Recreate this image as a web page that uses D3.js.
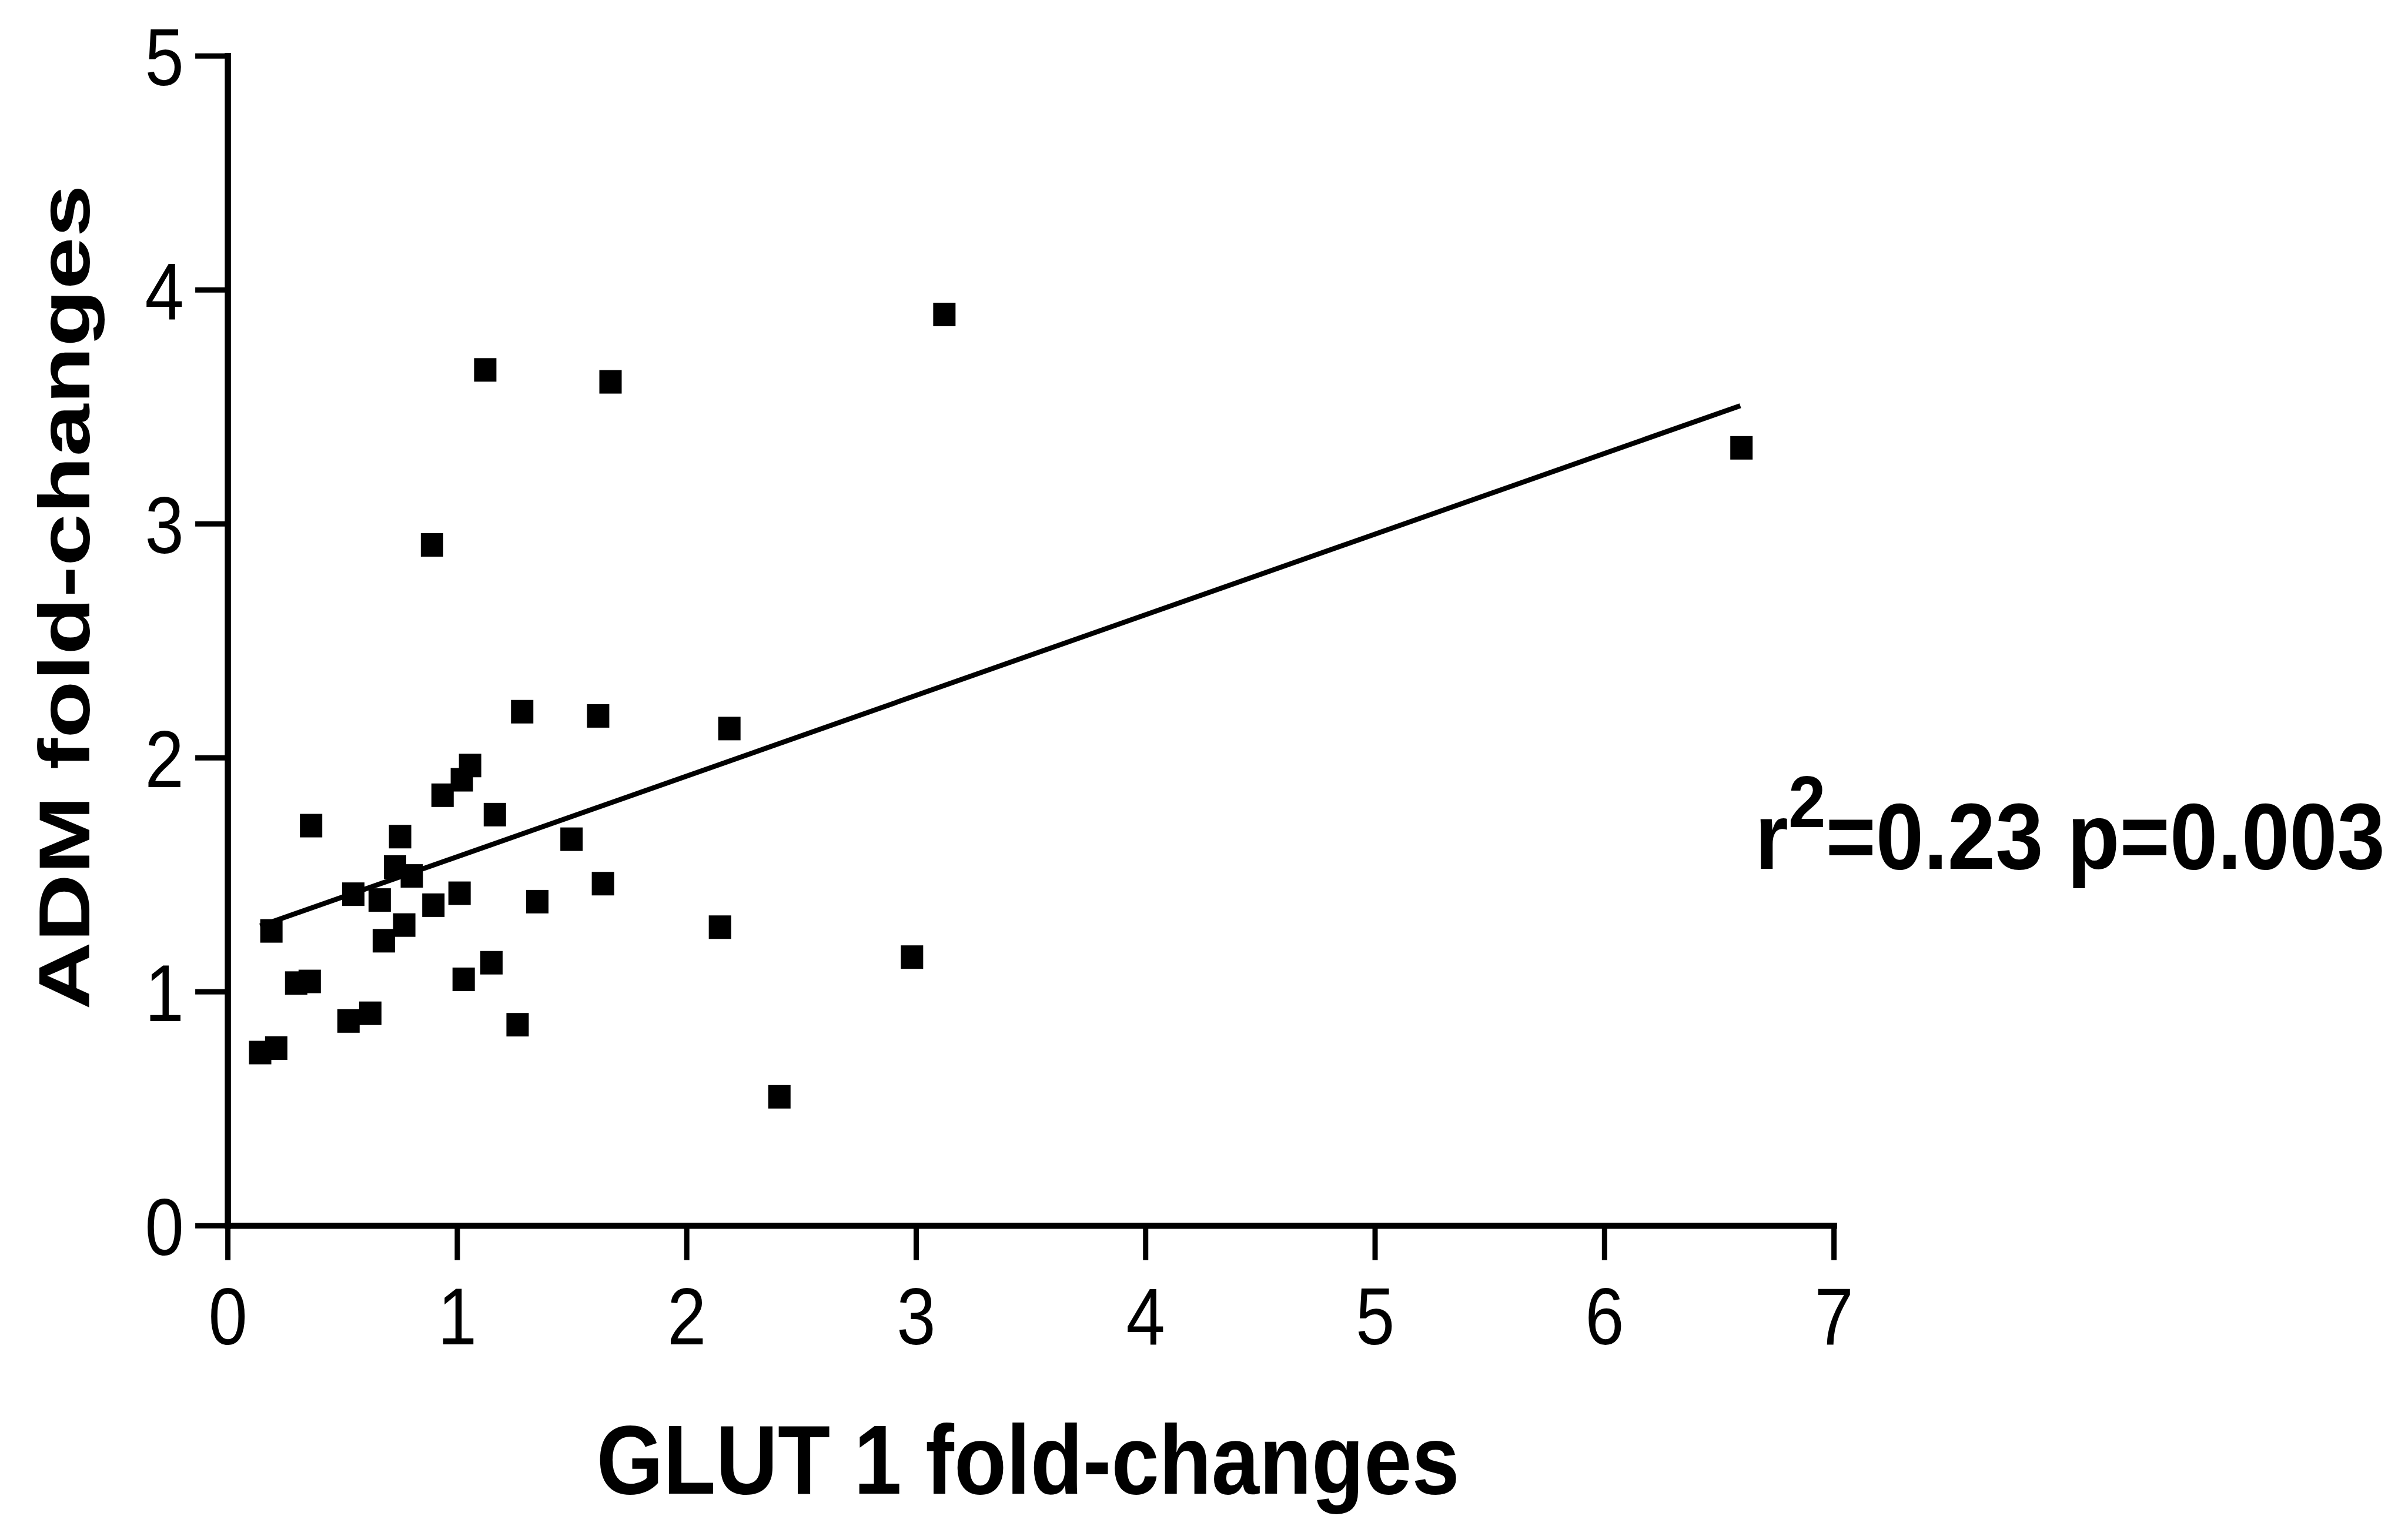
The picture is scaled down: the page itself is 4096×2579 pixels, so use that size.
<!DOCTYPE html>
<html>
<head>
<meta charset="utf-8">
<script src="https://cdn.jsdelivr.net/npm/d3@7"></script>
<style>
  html, body { margin: 0; padding: 0; background: #ffffff; }
  svg { display: block; }
</style>
</head>
<body>
<svg id="chart" width="4096" height="2579"></svg>
<script>
// GLUT 1 fold-change (x) against ADM fold-change (y), one entry per sample
const glutFold = [
  1.057, 1.021, 0.937, 1.165, 0.364, 0.752, 1.499, 0.730, 0.803, 1.636,
  0.548, 0.663, 1.011, 0.897, 1.350, 0.191, 0.770, 0.681, 1.150, 1.029,
  0.358, 0.299, 1.264, 0.527, 0.622, 0.142, 0.212,
  1.615, 2.187, 2.146, 2.983, 2.405, 3.124, 1.123, 1.669, 0.891, 1.284,
  6.598
];
const admFold = [
  1.966, 1.905, 1.839, 1.756, 1.709, 1.662, 1.651, 1.532, 1.494, 1.461,
  1.416, 1.391, 1.420, 1.369, 1.384, 1.259, 1.284, 1.217, 1.123, 1.052,
  1.043, 1.036, 0.858, 0.874, 0.907, 0.739, 0.758,
  2.178, 2.124, 1.275, 1.147, 0.550, 3.894, 3.657, 3.606, 2.909, 2.196,
  3.324
];

// Linear regression line, drawn across the observed GLUT 1 range
const fitX = [0.142, 6.593];
const fitY = [1.280, 3.504];

const xTickValues = [0, 1, 2, 3, 4, 5, 6, 7];
const yTickValues = [0, 1, 2, 3, 4, 5];

const xTitle = "GLUT 1 fold-changes";
const yTitle = "ADM fold-changes";
const rSquared = "0.23";
const pValue = "0.003";

// ---- layout ----
const FONT = "'Liberation Sans', Arial, Helvetica, sans-serif";
const plotLeft = 387.1, plotRight = 3119.1;
const plotBottom = 2084.7, plotTop = 94.8;
const axisStroke = 10.5, tickStroke = 9;
const tickFont = 137;
const markW = 38, markH = 40;

const svg = d3.select("#chart");

const x = d3.scaleLinear().domain([0, 7]).range([plotLeft, plotRight]);
const y = d3.scaleLinear().domain([0, 5]).range([plotBottom, plotTop]);

// x axis
const gx = svg.append("g")
  .attr("transform", `translate(0,${plotBottom})`)
  .call(d3.axisBottom(x).tickValues(xTickValues).tickFormat(d3.format("d"))
    .tickSize(59).tickSizeOuter(0));
gx.select(".domain").attr("stroke", "#000").attr("stroke-width", axisStroke)
  .attr("stroke-linecap", "square");
gx.selectAll(".tick line").attr("stroke", "#000").attr("stroke-width", tickStroke);
gx.selectAll(".tick text")
  .attr("fill", "#000")
  .attr("font-family", FONT)
  .attr("font-size", tickFont)
  .attr("y", 202)
  .attr("dy", null)
  .attr("transform", "scale(0.87,1)");

// y axis
const gy = svg.append("g")
  .attr("transform", `translate(${plotLeft},0)`)
  .call(d3.axisLeft(y).tickValues(yTickValues).tickFormat(d3.format("d"))
    .tickSize(55).tickSizeOuter(0));
gy.select(".domain").attr("stroke", "#000").attr("stroke-width", axisStroke)
  .attr("stroke-linecap", "square");
gy.selectAll(".tick line").attr("stroke", "#000").attr("stroke-width", tickStroke);
gy.selectAll(".tick text")
  .attr("fill", "#000")
  .attr("font-family", FONT)
  .attr("font-size", tickFont)
  .attr("x", 0)
  .attr("dy", "0.36em")
  .attr("text-anchor", "end")
  .attr("transform", "translate(-74.4,0) scale(0.87,1)");

// regression line
const fitPoints = fitX.map((v, i) => [v, fitY[i]]);
svg.append("path")
  .datum(fitPoints)
  .attr("fill", "none")
  .attr("stroke", "#000")
  .attr("stroke-width", 8.5)
  .attr("d", d3.line().x(d => x(d[0])).y(d => y(d[1])));

// samples as filled squares
const samples = glutFold.map((g, i) => ({ g, a: admFold[i] }));
svg.append("g").selectAll("rect")
  .data(samples)
  .join("rect")
  .attr("x", d => x(d.g) - markW / 2)
  .attr("y", d => y(d.a) - markH / 2)
  .attr("width", markW)
  .attr("height", markH)
  .attr("fill", "#000");

// axis titles
svg.append("text")
  .attr("transform", "translate(1748.7,2541) scale(0.874,1)")
  .attr("text-anchor", "middle")
  .attr("font-family", FONT)
  .attr("font-weight", "bold")
  .attr("font-size", 167)
  .attr("fill", "#000")
  .text(xTitle);

svg.append("text")
  .attr("transform", "translate(152,1016.1) rotate(-90) scale(1.3,1)")
  .attr("text-anchor", "middle")
  .attr("font-family", FONT)
  .attr("font-weight", "bold")
  .attr("font-size", 123)
  .attr("fill", "#000")
  .text(yTitle);

// correlation statistics
const stat = svg.append("text")
  .attr("transform", "translate(2985,1478.3) scale(0.92,1)")
  .attr("font-family", FONT)
  .attr("font-weight", "bold")
  .attr("font-size", 159)
  .attr("fill", "#000");
stat.append("tspan").text("r");
stat.append("tspan").attr("font-size", 124).attr("dy", -71.4).text("2");
stat.append("tspan").attr("dy", 71.4).text(`=${rSquared} p=${pValue}`);
</script>
</body>
</html>
